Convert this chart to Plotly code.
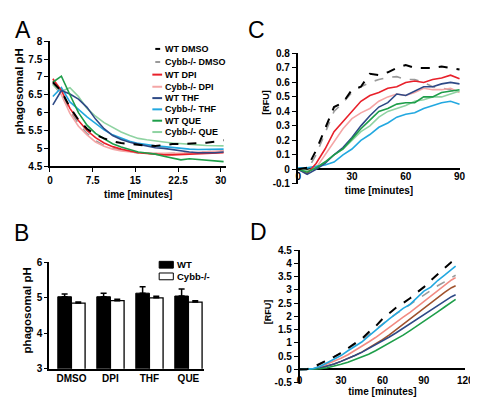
import plotly.graph_objects as go

W, H = 478, 400
def fx(p): return p / W
def fy(p): return 1 - p / H

FONT = "Liberation Sans, Arial, sans-serif"

# ---------------- Panel A data ----------------
tA = [0.5, 2, 3.5, 5, 6.5, 8, 9.5, 11, 12.5, 14, 15.5, 17, 18.5, 20, 21.5, 23, 24.5, 26, 27.5, 29, 30.5]
A_wt_dmso = [6.85, 6.6, 6.15, 5.8, 5.55, 5.38, 5.28, 5.2, 5.15, 5.12, 5.1, 5.08, 5.07, 5.1, 5.12, 5.12, 5.13, 5.14, 5.16, 5.19, 5.23]
A_ko_dmso = [6.8, 6.5, 6.05, 5.7, 5.42, 5.22, 5.08, 5.0, 4.95, 4.9, 4.87, 4.86, 4.85, 4.85, 4.86, 4.86, 4.88, 4.89, 4.9, 4.92, 4.93]
A_wt_dpi = [6.95, 6.62, 6.12, 5.78, 5.5, 5.3, 5.15, 5.05, 4.98, 4.92, 4.88, 4.86, 4.83, 4.82, 4.82, 4.83, 4.84, 4.86, 4.87, 4.88, 4.88]
A_ko_dpi = [6.9, 6.5, 5.98, 5.62, 5.38, 5.18, 5.06, 4.98, 4.93, 4.9, 4.88, 4.87, 4.86, 4.85, 4.86, 4.86, 4.87, 4.88, 4.9, 4.92, 4.93]
A_wt_thf = [6.22, 6.62, 6.52, 6.38, 6.15, 5.82, 5.55, 5.36, 5.25, 5.17, 5.12, 5.07, 5.02, 5.0, 4.96, 4.93, 4.9, 4.88, 4.87, 4.88, 4.9]
A_ko_thf = [6.45, 6.7, 6.3, 6.08, 5.88, 5.7, 5.52, 5.38, 5.28, 5.2, 5.14, 5.1, 5.07, 5.05, 5.02, 5.0, 4.98, 4.97, 4.97, 4.98, 4.98]
A_wt_que = [6.85, 7.02, 6.5, 6.0, 5.65, 5.42, 5.27, 5.13, 5.04, 4.97, 4.9, 4.87, 4.84, 4.78, 4.72, 4.68, 4.71, 4.69, 4.67, 4.65, 4.63]
A_ko_que = [6.78, 6.6, 6.7, 6.45, 6.12, 5.9, 5.72, 5.58, 5.46, 5.36, 5.28, 5.24, 5.2, 5.18, 5.15, 5.14, 5.12, 5.1, 5.08, 5.07, 5.07]

A_xticks = [0, 7.5, 15, 22.5, 30]
A_xlabels = ["0", "7.5", "15", "22.5", "30"]
A_yticks = [4.5, 5, 5.5, 6, 6.5, 7, 7.5, 8]
A_ylabels = ["4.5", "5", "5.5", "6", "6.5", "7", "7.5", "8"]

# ---------------- Panel B data ----------------
B_cats = ["DMSO", "DPI", "THF", "QUE"]
B_wt = [5.03, 5.03, 5.13, 5.05]
B_wt_err = [0.08, 0.1, 0.18, 0.2]
B_ko = [4.85, 4.92, 5.0, 4.88]
B_ko_err = [0.03, 0.04, 0.04, 0.04]
B_yticks = [3, 4, 5, 6]

# ---------------- Panel C data ----------------
tC = [0, 5, 10, 15, 20, 25, 30, 35, 40, 45, 50, 55, 60, 65, 70, 75, 80, 85, 90]
C_wt_dmso = [0, 0.01, 0.13, 0.28, 0.43, 0.46, 0.55, 0.57, 0.66, 0.65, 0.67, 0.7, 0.72, 0.7, 0.7, 0.7, 0.71, 0.7, 0.69]
C_ko_dmso = [0, -0.01, 0.1, 0.25, 0.4, 0.46, 0.53, 0.57, 0.6, 0.62, 0.635, 0.64, 0.62, 0.62, 0.6, 0.57, 0.56, 0.55, 0.52]
C_wt_dpi = [0, -0.03, 0.04, 0.14, 0.26, 0.33, 0.4, 0.47, 0.51, 0.53, 0.56, 0.57, 0.6, 0.61, 0.6, 0.62, 0.63, 0.65, 0.625]
C_ko_dpi = [0, -0.02, 0.01, 0.1, 0.19, 0.28, 0.35, 0.39, 0.42, 0.47, 0.5, 0.52, 0.51, 0.53, 0.56, 0.55, 0.55, 0.56, 0.53]
C_wt_thf = [0, -0.035, 0.0, 0.04, 0.1, 0.15, 0.22, 0.3, 0.37, 0.43, 0.46, 0.52, 0.51, 0.54, 0.57, 0.57, 0.59, 0.6, 0.59]
C_ko_thf = [0.01, 0.01, 0.02, 0.03, 0.05, 0.1, 0.14, 0.2, 0.24, 0.29, 0.32, 0.36, 0.38, 0.39, 0.42, 0.44, 0.46, 0.47, 0.45]
C_wt_que = [0, -0.02, 0.01, 0.05, 0.1, 0.14, 0.21, 0.28, 0.34, 0.4, 0.42, 0.45, 0.46, 0.46, 0.5, 0.5, 0.53, 0.54, 0.55]
C_ko_que = [0, -0.01, 0.01, 0.05, 0.1, 0.14, 0.2, 0.26, 0.3, 0.36, 0.4, 0.42, 0.44, 0.47, 0.48, 0.5, 0.5, 0.52, 0.54]
C_xticks = [0, 30, 60, 90]
C_yticks = [-0.1, 0, 0.1, 0.2, 0.3, 0.4, 0.5, 0.6, 0.7, 0.8]
C_ylabels = ["-0.1", "0", "0.1", "0.2", "0.3", "0.4", "0.5", "0.6", "0.7", "0.8"]

# ---------------- Panel D data ----------------
tD = [0, 5, 10, 15, 20, 25, 30, 35, 40, 45, 50, 55, 60, 65, 70, 75, 80, 85, 90, 95, 100, 105, 110, 113]
D_black = [0, 0, 0.08, 0.2, 0.33, 0.47, 0.62, 0.8, 0.98, 1.15, 1.4, 1.62, 1.9, 2.12, 2.33, 2.5, 2.68, 2.9, 3.1, 3.35, 3.6, 3.82, 4.05, 4.15]
D_gray = [0, 0, 0.1, 0.22, 0.35, 0.48, 0.62, 0.78, 0.95, 1.1, 1.3, 1.5, 1.72, 1.92, 2.1, 2.27, 2.45, 2.62, 2.8, 2.98, 3.15, 3.3, 3.47, 3.55]
D_cyan = [0, 0, 0.03, 0.12, 0.25, 0.38, 0.52, 0.7, 0.87, 1.03, 1.25, 1.47, 1.7, 1.9, 2.1, 2.3, 2.45, 2.7, 2.95, 3.1, 3.35, 3.55, 3.78, 3.89]
D_pink = [0, 0, 0.02, 0.1, 0.2, 0.3, 0.42, 0.55, 0.7, 0.85, 1.03, 1.2, 1.4, 1.58, 1.78, 1.97, 2.15, 2.35, 2.57, 2.78, 2.98, 3.18, 3.37, 3.46]
D_brown = [0, 0, 0.01, 0.05, 0.12, 0.2, 0.3, 0.4, 0.52, 0.65, 0.8, 0.95, 1.12, 1.3, 1.5, 1.7, 1.9, 2.1, 2.32, 2.52, 2.72, 2.9, 3.08, 3.15]
D_navy = [0, 0, 0.01, 0.05, 0.12, 0.2, 0.3, 0.4, 0.52, 0.64, 0.78, 0.92, 1.07, 1.22, 1.38, 1.55, 1.72, 1.9, 2.07, 2.25, 2.42, 2.58, 2.74, 2.81]
D_green = [0, 0, 0, 0.02, 0.06, 0.12, 0.19, 0.27, 0.36, 0.46, 0.57, 0.7, 0.84, 0.98, 1.13, 1.29, 1.46, 1.63, 1.81, 1.99, 2.17, 2.35, 2.53, 2.64]
D_xticks = [0, 30, 60, 90, 120]
D_yticks = [-0.5, 0, 0.5, 1, 1.5, 2, 2.5, 3, 3.5, 4, 4.5]
D_ylabels = ["-0.5", "0", "0.5", "1", "1.5", "2", "2.5", "3", "3.5", "4", "4.5"]

# ---------------- styles ----------------
names = ["WT DMSO", "Cybb-/- DMSO", "WT DPI", "Cybb-/- DPI", "WT THF", "Cybb-/- THF", "WT QUE", "Cybb-/- QUE"]
colors = ["#000000", "#9a9a9a", "#e8202a", "#f4a6a6", "#2e4a86", "#22a8e0", "#1e9e4a", "#8fd3a2"]
dashes = ["dash", "dash", "solid", "solid", "solid", "solid", "solid", "solid"]
A_series = [A_wt_dmso, A_ko_dmso, A_wt_dpi, A_ko_dpi, A_wt_thf, A_ko_thf, A_wt_que, A_ko_que]
C_series = [C_wt_dmso, C_ko_dmso, C_wt_dpi, C_ko_dpi, C_wt_thf, C_ko_thf, C_wt_que, C_ko_que]
D_series = [D_black, D_gray, D_cyan, D_pink, D_brown, D_navy, D_green]
D_colors = ["#000000", "#9a9a9a", "#22a8e0", "#f28b82", "#a0522d", "#2e4a86", "#1e9e4a"]
D_dashes = ["dash", "dash", "solid", "solid", "solid", "solid", "solid"]
D_names = ["WT DMSO", "Cybb-/- DMSO", "Cybb-/- THF", "Cybb-/- DPI", "WT DPI", "WT THF", "WT QUE"]

fig = go.Figure()

order = [1, 3, 7, 5, 2, 4, 6, 0]
for i in order:
    fig.add_trace(go.Scatter(x=tA, y=A_series[i], mode="lines", name=names[i],
                             line=dict(color=colors[i], width=2 if i == 0 else 1.6, dash=dashes[i]),
                             xaxis="x", yaxis="y", showlegend=False))
for i in order:
    fig.add_trace(go.Scatter(x=tC, y=C_series[i], mode="lines", name=names[i],
                             line=dict(color=colors[i], width=2 if i == 0 else 1.6, dash=dashes[i]),
                             xaxis="x3", yaxis="y3", showlegend=False))
for i in [1, 3, 4, 5, 6, 2, 0]:
    fig.add_trace(go.Scatter(x=tD, y=D_series[i], mode="lines", name=D_names[i],
                             line=dict(color=D_colors[i], width=2 if i == 0 else 1.6, dash=D_dashes[i]),
                             xaxis="x4", yaxis="y4", showlegend=False))

fig.add_trace(go.Bar(x=B_cats, y=B_wt, name="WT", marker=dict(color="black", line=dict(color="black", width=1)),
                     error_y=dict(type="data", array=B_wt_err, arrayminus=[0] * 4, symmetric=False,
                                  color="black", thickness=1.5, width=3),
                     xaxis="x2", yaxis="y2", showlegend=False))
fig.add_trace(go.Bar(x=B_cats, y=B_ko, name="Cybb-/-", marker=dict(color="white", line=dict(color="black", width=1.3)),
                     error_y=dict(type="data", array=B_ko_err, arrayminus=[0] * 4, symmetric=False,
                                  color="black", thickness=1.5, width=3),
                     xaxis="x2", yaxis="y2", showlegend=False))

tickfont = dict(family=FONT, size=10, color="black", weight="bold")
axline = dict(showline=True, linecolor="black", linewidth=1.5, showgrid=False, zeroline=False,
              ticks="outside", ticklen=4, tickwidth=1.2, tickcolor="black", tickfont=tickfont)
ytitle_font = dict(family=FONT, size=11.5, weight="bold", color="black")
xtitle_font = dict(family=FONT, size=10, weight="bold", color="black")
rfu_font = dict(family=FONT, size=9, weight="bold", color="black")

fig.update_layout(
    width=W, height=H, margin=dict(l=0, r=0, t=0, b=0),
    paper_bgcolor="white", plot_bgcolor="white", showlegend=False,
    barmode="group", bargap=0.3, bargroupgap=0,
    font=dict(family=FONT, color="black"),
    # A
    xaxis=dict(domain=[fx(40), fx(221)], anchor="y", range=[0, 31], tickvals=A_xticks, ticktext=A_xlabels,
               title=dict(text="time [minutes]", font=xtitle_font, standoff=6), **axline),
    yaxis=dict(domain=[fy(157), fy(28)], anchor="x", range=[4.5, 8], tickvals=A_yticks, ticktext=A_ylabels, **axline),
    # B
    xaxis2=dict(domain=[fx(39), fx(198)], anchor="y2", range=[-0.575, 3.4], showline=True, linecolor="black",
                linewidth=1.5, ticks="", showgrid=False, zeroline=False, tickfont=tickfont),
    yaxis2=dict(domain=[fy(365.7), fy(256)], anchor="x2", range=[3, 6], tickvals=B_yticks,
                **{**axline, "ticklen": 3}),
    # C
    xaxis3=dict(domain=[fx(294), fx(461)], anchor="free", position=fy(160), range=[-0.3, 90.5],
                tickvals=C_xticks, showline=False, ticks="", showgrid=False, zeroline=False, tickfont=tickfont,
                title=dict(text="time [minutes]", font=xtitle_font, standoff=5)),
    yaxis3=dict(domain=[fy(175), fy(40.7)], anchor="x3", range=[-0.1, 0.8], tickvals=C_yticks, ticktext=C_ylabels,
                **{**axline, "zeroline": True, "zerolinecolor": "black", "zerolinewidth": 1.5}),
    # D
    xaxis4=dict(domain=[fx(296), fx(466)], anchor="free", position=fy(370), range=[0, 120],
                tickvals=D_xticks, showline=False, ticks="", showgrid=False, zeroline=False, tickfont=tickfont,
                title=dict(text="time [minutes]", font=xtitle_font, standoff=0)),
    yaxis4=dict(domain=[fy(380), fy(243.3)], anchor="x4", range=[-0.5, 4.5], tickvals=D_yticks, ticktext=D_ylabels,
                **{**axline, "zeroline": True, "zerolinecolor": "black", "zerolinewidth": 1.5}),
)

# y titles (rotated text)
ytitles = [("phagosomal pH", 8, 80, ytitle_font), ("phagosomal pH", 16, 306, ytitle_font),
           ("[RFU]", 262, 91, rfu_font), ("[RFU]", 263, 307, rfu_font)]
for txt, px, py, fnt in ytitles:
    fig.add_annotation(text=txt, x=fx(px), y=fy(py), xref="paper", yref="paper", showarrow=False,
                       textangle=-90, font=fnt, xanchor="center", yanchor="middle")

# panel letters
for letter, (px, py) in {"A": (12, 16), "C": (252, 16), "B": (11, 226), "D": (254, 225)}.items():
    fig.add_annotation(text=letter, x=fx(px), y=fy(py), xref="paper", yref="paper", showarrow=False,
                       font=dict(family=FONT, size=23, color="black"), xanchor="center", yanchor="middle")

# manual legend for panel A
legend_y = [36, 49.5, 62.5, 75, 86.7, 98.3, 110, 121.7]
for i, nm in enumerate(names):
    yy = fy(legend_y[i])
    if dashes[i] == "dash":
        x0, x1 = fx(148), fx(153)
    else:
        x0, x1 = fx(145), fx(155)
    fig.add_shape(type="line", xref="paper", yref="paper", x0=x0, x1=x1, y0=yy, y1=yy,
                  line=dict(color=colors[i], width=2))
    fig.add_annotation(text=nm, x=fx(156), y=yy, xref="paper", yref="paper", showarrow=False,
                       xanchor="left", yanchor="middle", font=dict(family=FONT, size=9, weight="bold", color="black"))

# manual legend for panel B
B_leg = [("WT", "black", 258.5), ("Cybb-/-", "white", 270.5)]
for nm, col, py in B_leg:
    fig.add_shape(type="rect", xref="paper", yref="paper", x0=fx(152), x1=fx(166.5), y0=fy(py + 3.5), y1=fy(py - 3.5),
                  fillcolor=col, line=dict(color="black", width=1))
    fig.add_annotation(text=nm, x=fx(168), y=fy(py), xref="paper", yref="paper", showarrow=False,
                       xanchor="left", yanchor="middle", font=dict(family=FONT, size=9.5, weight="bold", color="black"))

fig.write_html("out.html")
